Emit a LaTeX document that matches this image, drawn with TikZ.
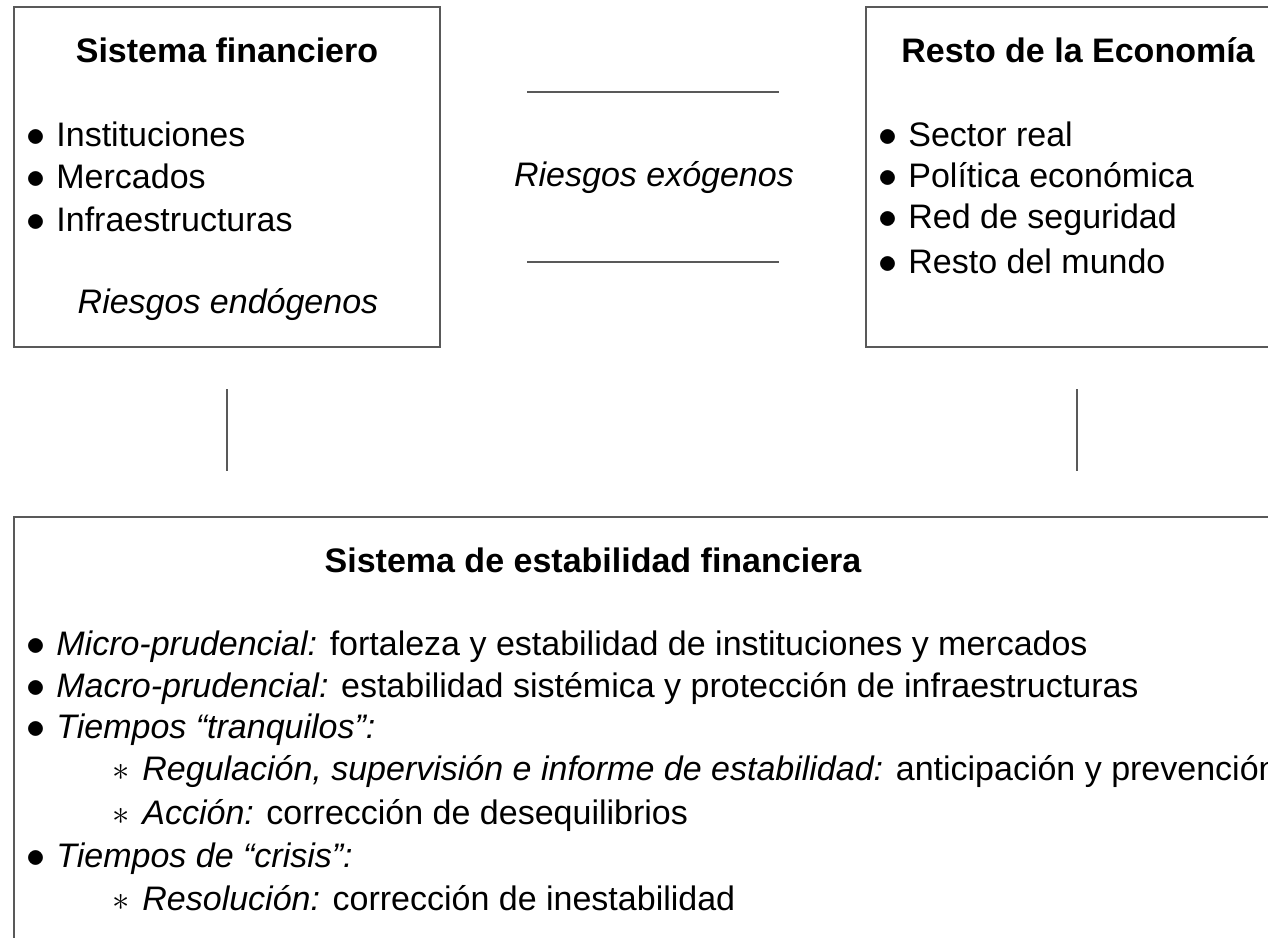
\documentclass[tikz,border=0pt]{standalone}
\usepackage{fontspec}
\setmainfont{Liberation Sans}
\usepackage{tikz,graphicx}

\newcommand{\fs}{\fontsize{17}{20}\selectfont}
\newcommand{\itm}{\makebox[15pt][l]{\raisebox{-0.3pt}{\scalebox{1.1}{$\bullet$}}}}
\newcommand{\subitm}{\makebox[15pt][l]{$\ast$}}

\begin{document}
\begin{tikzpicture}[x=0.5pt, y=-0.5pt,
    box/.style={draw=black!65, line width=1pt, inner sep=0pt},
    link/.style={draw=black!65, line width=1pt},
    txt/.style={anchor=base west, inner sep=0pt, font=\fs},
    ttl/.style={anchor=base, inner sep=0pt, font=\fs\bfseries},
    rsk/.style={anchor=base, inner sep=0pt, font=\fs\itshape}]

    \useasboundingbox (0,0) rectangle (1268,937);
    \clip (0,0) rectangle (1268,937);

    \node[box, minimum width=213pt, minimum height=170pt] (sf) at (227,177) {};
    \node[box, minimum width=211pt, minimum height=170pt] (re) at (1077,177) {};
    \node[box, minimum width=643pt, minimum height=226.5pt] (sef) at (657,743.5) {};

    \node[ttl] (sft) at (227,62) {Sistema financiero};
    \node[txt] (sf1) at (26,146) {\itm Instituciones};
    \node[txt] (sf2) at (26,188) {\itm Mercados};
    \node[txt] (sf3) at (26,231) {\itm Infraestructuras};
    \node[rsk] (sfr) at (228,313) {Riesgos endógenos};

    \node[rsk] (rex) at (654,186) {Riesgos exógenos};

    \node[ttl] (ret) at (1078,62) {Resto de la Economía};
    \node[txt] (re1) at (878,146) {\itm Sector real};
    \node[txt] (re2) at (878,187) {\itm Política económica};
    \node[txt] (re3) at (878,228) {\itm Red de seguridad};
    \node[txt] (re4) at (878,273) {\itm Resto del mundo};

    \node[ttl] (seft) at (593,572) {Sistema de estabilidad financiera};
    \node[txt] (sef1) at (26,655) {\itm \textit{Micro-prudencial:} fortaleza y estabilidad de instituciones y mercados};
    \node[txt] (sef2) at (26,697) {\itm \textit{Macro-prudencial:} estabilidad sistémica y protección de infraestructuras};
    \node[txt] (sef3) at (26,738) {\itm \textit{Tiempos “tranquilos”:}};
    \node[txt] (sef4) at (112,780) {\subitm \textit{Regulación, supervisión e informe de estabilidad:} anticipación y prevención};
    \node[txt] (sef5) at (112,824) {\subitm \textit{Acción:} corrección de desequilibrios};
    \node[txt] (sef6) at (26,867) {\itm \textit{Tiempos de “crisis”:}};
    \node[txt] (sef7) at (112,910) {\subitm \textit{Resolución:} corrección de inestabilidad};

    \draw[link, shorten <=43pt, shorten >=43pt] ([yshift=42.5pt]sf.east) -- ([yshift=42.5pt]re.west);
    \draw[link, shorten <=43pt, shorten >=43pt] ([yshift=-42.5pt]sf.east) -- ([yshift=-42.5pt]re.west);
    \draw[link, shorten <=20.5pt, shorten >=22.5pt] (sf.south) -- (sf.south |- sef.north);
    \draw[link, shorten <=20.5pt, shorten >=22.5pt] (re.south) -- (re.south |- sef.north);

\end{tikzpicture}
\end{document}
